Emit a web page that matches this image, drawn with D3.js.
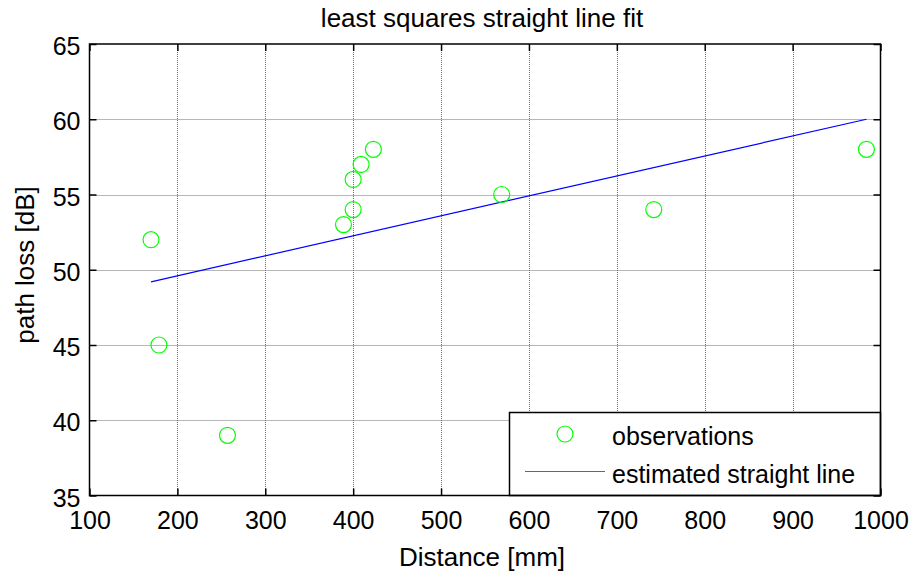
<!DOCTYPE html>
<html>
<head>
<meta charset="utf-8">
<script src="https://cdn.jsdelivr.net/npm/d3@7"></script>
<style>
  body { margin: 0; background: #fff; }
  text { font-family: "Liberation Sans", Arial, sans-serif; fill: #000; }
</style>
</head>
<body>
<script>
// observations
var distX = [170, 179, 257, 389, 400, 400, 409, 423, 569, 742, 984];
var lossY = [52, 45, 39, 53, 54, 56, 57, 58, 55, 54, 58];

// fitted line
var fitX = [170, 984];
var fitY = [49.2, 60.0];

var xTicks = [100, 200, 300, 400, 500, 600, 700, 800, 900, 1000];
var yTicks = [35, 40, 45, 50, 55, 60, 65];

var width = 912, height = 571;
var pLeft = 89.5, pRight = 880.5, pTop = 44, pBottom = 495.5;

var svg = d3.select("body").append("svg")
            .attr("width", width)
            .attr("height", height);

var x = d3.scaleLinear().domain([100, 1000]).range([pLeft, pRight]);
var y = d3.scaleLinear().domain([35, 65]).range([pBottom, pTop]);

// grid (dotted gray)
var grid = svg.append("g");
grid.selectAll(".gx")
    .data(xTicks.slice(1, -1))
    .enter().append("line")
    .attr("x1", function(d) { return Math.round(x(d)) + 0.5; })
    .attr("x2", function(d) { return Math.round(x(d)) + 0.5; })
    .attr("y1", pTop).attr("y2", pBottom)
    .style("stroke", "#6e6e6e").style("stroke-width", 1)
    .style("stroke-dasharray", "1,1");
grid.selectAll(".gy")
    .data(yTicks.slice(1, -1))
    .enter().append("line")
    .attr("y1", function(d) { return Math.round(y(d)) + 0.5; })
    .attr("y2", function(d) { return Math.round(y(d)) + 0.5; })
    .attr("x1", pLeft).attr("x2", pRight)
    .style("stroke", "#6e6e6e").style("stroke-width", 1)
    .style("stroke-dasharray", "1,1");

// axes, ticks pointing inward
var tickLen = 7;
var fmt = d3.format("d");
var xAxisB = d3.axisBottom(x).tickValues(xTicks).tickSize(tickLen).tickFormat(fmt);
var xAxisT = d3.axisTop(x).tickValues(xTicks).tickSize(tickLen).tickFormat("");
var yAxisL = d3.axisLeft(y).tickValues(yTicks).tickSize(tickLen).tickFormat(fmt);
var yAxisR = d3.axisRight(y).tickValues(yTicks).tickSize(tickLen).tickFormat("");

function styleAxis(g) {
  g.select(".domain").remove();
  g.selectAll("line").style("stroke", "#000").style("stroke-width", 1.5);
  g.selectAll("text").style("font-size", "25px").style("font-family", "Liberation Sans, Arial, sans-serif");
}

var gxB = svg.append("g").attr("transform", "translate(0," + pBottom + ")").call(xAxisB).call(styleAxis);
gxB.selectAll("line").attr("y2", -tickLen);
gxB.selectAll("text").attr("y", 0).attr("dy", "33px");

var gxT = svg.append("g").attr("transform", "translate(0," + pTop + ")").call(xAxisT).call(styleAxis);
gxT.selectAll("line").attr("y2", tickLen);

var gyL = svg.append("g").attr("transform", "translate(" + pLeft + ",0)").call(yAxisL).call(styleAxis);
gyL.selectAll("line").attr("x2", tickLen);
gyL.selectAll("text").attr("x", -9).attr("dy", "0.42em");

var gyR = svg.append("g").attr("transform", "translate(" + pRight + ",0)").call(yAxisR).call(styleAxis);
gyR.selectAll("line").attr("x2", -tickLen);

// fitted line
var lineGen = d3.line()
    .x(function(d) { return x(d[0]); })
    .y(function(d) { return y(d[1]); });
svg.append("path")
   .datum(d3.zip(fitX, fitY))
   .attr("d", lineGen)
   .style("fill", "none")
   .style("stroke", "#0000ff")
   .style("stroke-width", 1.2);

// observations
svg.selectAll(".obs")
   .data(d3.zip(distX, lossY))
   .enter().append("circle")
   .attr("cx", function(d) { return x(d[0]); })
   .attr("cy", function(d) { return y(d[1]); })
   .attr("r", 8)
   .style("fill", "none")
   .style("stroke", "#00ff00")
   .style("stroke-width", 1.2);

// legend
var lg = svg.append("g");
lg.append("rect")
  .attr("x", 509.5).attr("y", 412.5)
  .attr("width", pRight - 509.5).attr("height", pBottom - 412.5)
  .style("fill", "#fff").style("stroke", "#000").style("stroke-width", 1.5);
lg.append("circle")
  .attr("cx", 565).attr("cy", 434).attr("r", 8)
  .style("fill", "none").style("stroke", "#00ff00").style("stroke-width", 1.2);
lg.append("line")
  .attr("x1", 525).attr("x2", 605).attr("y1", 471.5).attr("y2", 471.5)
  .style("stroke", "#5555ff").style("stroke-width", 1.2);
lg.append("text").attr("x", 612).attr("y", 445)
  .style("font-size", "25px").text("observations");
lg.append("text").attr("x", 612).attr("y", 482.5)
  .style("font-size", "25px").text("estimated straight line");

// box
svg.append("rect")
   .attr("x", pLeft).attr("y", pTop)
   .attr("width", pRight - pLeft).attr("height", pBottom - pTop)
   .style("fill", "none").style("stroke", "#000").style("stroke-width", 1.5);

// titles
svg.append("text")
   .attr("x", 482).attr("y", 26.5)
   .attr("text-anchor", "middle")
   .style("font-size", "26px")
   .text("least squares straight line fit");
svg.append("text")
   .attr("x", 482).attr("y", 566)
   .attr("text-anchor", "middle")
   .style("font-size", "26px")
   .text("Distance [mm]");
svg.append("text")
   .attr("transform", "translate(34,265) rotate(-90)")
   .attr("text-anchor", "middle")
   .style("font-size", "26px")
   .text("path loss [dB]");
</script>
</body>
</html>
